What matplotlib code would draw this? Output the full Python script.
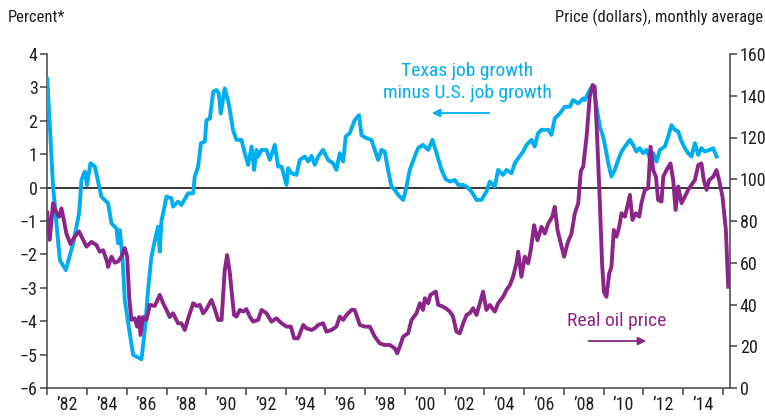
import numpy as np
import matplotlib
matplotlib.use("Agg")
import matplotlib.pyplot as plt
from matplotlib import font_manager

# ---------------- data ----------------
# Texas job growth minus U.S. job growth (percent, left axis)
job_years = [1981.0, 1981.29, 1981.63, 1981.93, 1982.3, 1982.6, 1982.72, 1982.89, 1983.0, 1983.17,
             1983.39, 1983.72, 1984.06, 1984.23, 1984.48, 1984.56, 1984.65, 1984.78, 1984.9, 1985.07,
             1985.32, 1985.74, 1985.91, 1986.07, 1986.24, 1986.49, 1986.58, 1986.66, 1986.74, 1987.0,
             1987.25, 1987.33, 1987.58, 1987.75, 1988.09, 1988.34, 1988.42, 1988.59, 1988.73, 1988.93,
             1989.01, 1989.18, 1989.35, 1989.51, 1989.63, 1989.73, 1989.93, 1990.13, 1990.35, 1990.52,
             1990.77, 1990.94, 1991.11, 1991.28, 1991.41, 1991.53, 1991.61, 1991.78, 1992.03, 1992.2,
             1992.45, 1992.62, 1992.79, 1993.04, 1993.12, 1993.29, 1993.54, 1993.71, 1993.96, 1994.13,
             1994.3, 1994.46, 1994.63, 1994.88, 1995.13, 1995.38, 1995.55, 1995.72, 1995.89, 1996.02,
             1996.22, 1996.47, 1996.69, 1996.81, 1997.06, 1997.31, 1997.48, 1997.65, 1997.82, 1997.98,
             1998.15, 1998.32, 1998.49, 1998.66, 1998.91, 1999.08, 1999.24, 1999.49, 1999.66, 1999.91,
             2000.17, 2000.38, 2000.59, 2000.84, 2001.05, 2001.26, 2001.51, 2001.68, 2001.93, 2002.1,
             2002.35, 2002.6, 2002.85, 2003.1, 2003.27, 2003.52, 2003.69, 2003.94, 2004.11, 2004.36,
             2004.53, 2004.7, 2004.95, 2005.12, 2005.37, 2005.53, 2005.7, 2005.87, 2006.04, 2006.21,
             2006.37, 2006.54, 2006.79, 2007.04, 2007.3, 2007.46, 2007.72, 2007.97, 2008.05, 2008.3,
             2008.47, 2008.64, 2008.81, 2008.97, 2009.11, 2009.23, 2009.39, 2009.56, 2009.73, 2009.9,
             2010.07, 2010.32, 2010.48, 2010.65, 2010.82, 2010.99, 2011.16, 2011.32, 2011.49, 2011.66,
             2011.83, 2012.08, 2012.25, 2012.41, 2012.58, 2012.75, 2012.92, 2013.09, 2013.25, 2013.42,
             2013.59, 2013.76, 2013.92, 2014.09, 2014.34, 2014.51, 2014.68]
job_diff = [3.25, 0.03, -2.17, -2.47, -1.67, -0.77, 0.23, 0.48, 0.08, 0.73,
            0.63, -0.27, -0.47, -1.07, -1.22, -1.67, -1.27, -2.07, -3.37, -4.06,
            -5.01, -5.14, -4.26, -3.07, -2.07, -1.37, -1.17, -1.92, -1.02, -0.27,
            -0.32, -0.57, -0.42, -0.52, -0.17, -0.17, 0.33, 0.63, 1.33, 1.38,
            2.02, 2.07, 2.87, 2.92, 2.82, 2.22, 2.97, 2.52, 1.72, 1.43,
            1.43, 1.03, 0.68, 1.23, 0.53, 1.13, 0.93, 1.13, 1.13, 0.83,
            1.28, 0.63, 0.63, 0.08, 0.58, 0.43, 0.38, 0.83, 0.93, 0.78,
            0.95, 0.68, 0.93, 1.13, 0.83, 0.73, 0.53, 1.03, 0.78, 1.53,
            1.63, 2.02, 2.17, 1.57, 1.48, 1.43, 1.13, 0.83, 1.13, 1.08,
            0.53, 0.03, -0.07, -0.22, -0.37, 0.03, 0.53, 0.93, 1.18, 1.28,
            1.13, 1.43, 1.03, 0.53, 0.25, 0.18, 0.23, 0.08, 0.08, 0.03,
            -0.12, -0.37, -0.37, -0.12, 0.18, 0.03, 0.53, 0.38, 0.53, 0.43,
            0.73, 0.88, 1.08, 1.28, 1.43, 1.23, 1.63, 1.73, 1.73, 1.73,
            1.58, 2.07, 2.22, 2.42, 2.42, 2.62, 2.52, 2.67, 2.62, 2.92,
            3.07, 2.42, 1.82, 1.53, 1.13, 0.73, 0.33, 0.53, 0.83, 1.08,
            1.23, 1.43, 1.28, 1.08, 1.18, 1.03, 1.13, 0.88, 1.03, 0.78,
            1.13, 1.23, 1.53, 1.87, 1.73, 1.68, 1.38, 1.18, 1.03, 0.93,
            1.33, 0.98, 1.18, 1.08, 1.13, 1.18, 0.93]

# Real oil price (dollars, monthly average, right axis)
oil_years = [1981.0, 1981.12, 1981.29, 1981.46, 1981.59, 1981.71, 1981.83, 1981.96, 1982.16, 1982.38,
             1982.6, 1982.8, 1982.97, 1983.22, 1983.47, 1983.64, 1983.81, 1983.98, 1984.06, 1984.23,
             1984.4, 1984.56, 1984.73, 1984.9, 1985.02, 1985.12, 1985.23, 1985.4, 1985.52, 1985.62,
             1985.69, 1985.82, 1985.99, 1986.16, 1986.41, 1986.66, 1986.83, 1987.0, 1987.16, 1987.33,
             1987.58, 1987.75, 1987.92, 1988.09, 1988.34, 1988.51, 1988.68, 1988.84, 1989.01, 1989.26,
             1989.43, 1989.6, 1989.77, 1989.93, 1990.05, 1990.19, 1990.27, 1990.4, 1990.52, 1990.69,
             1990.86, 1991.02, 1991.19, 1991.36, 1991.61, 1991.78, 1992.03, 1992.28, 1992.53, 1992.79,
             1993.04, 1993.26, 1993.42, 1993.62, 1993.88, 1994.04, 1994.3, 1994.46, 1994.63, 1994.88,
             1995.05, 1995.3, 1995.55, 1995.72, 1995.89, 1996.06, 1996.31, 1996.47, 1996.73, 1996.98,
             1997.23, 1997.48, 1997.73, 1997.98, 1998.24, 1998.49, 1998.61, 1998.74, 1998.91, 1999.16,
             1999.33, 1999.58, 1999.75, 1999.91, 2000.0, 2000.17, 2000.28, 2000.42, 2000.55, 2000.67,
             2000.84, 2001.05, 2001.26, 2001.42, 2001.59, 2001.76, 2001.93, 2002.1, 2002.26, 2002.43,
             2002.6, 2002.77, 2002.93, 2003.1, 2003.27, 2003.52, 2003.69, 2003.94, 2004.11, 2004.28,
             2004.44, 2004.61, 2004.7, 2004.86, 2005.03, 2005.2, 2005.33, 2005.5, 2005.67, 2005.87,
             2006.04, 2006.21, 2006.41, 2006.54, 2006.68, 2006.84, 2007.01, 2007.18, 2007.38, 2007.55,
             2007.72, 2007.85, 2007.97, 2008.14, 2008.3, 2008.44, 2008.55, 2008.67, 2008.81, 2008.92,
             2009.01, 2009.14, 2009.28, 2009.39, 2009.51, 2009.65, 2009.78, 2009.9, 2010.07, 2010.15,
             2010.32, 2010.45, 2010.62, 2010.79, 2010.9, 2011.07, 2011.24, 2011.36, 2011.49, 2011.63,
             2011.74, 2011.91, 2012.0, 2012.16, 2012.36, 2012.5, 2012.62, 2012.75, 2012.92, 2013.09,
             2013.25, 2013.42, 2013.59, 2013.76, 2013.92, 2014.04, 2014.18, 2014.31, 2014.51, 2014.68,
             2014.81, 2014.98, 2015.15, 2015.27]
oil_price = [84, 71, 88.5, 84, 82, 86, 80.5, 74, 69, 72.5,
             75, 71, 67.7, 70, 68.5, 65.3, 66, 61.3, 58, 62.9,
             60, 60.6, 62.9, 67, 62.9, 43.7, 32.6, 33.4, 29.4, 34,
             25.4, 34, 32.6, 39.8, 39.3, 44.6, 40.6, 37.4, 34, 35.8,
             31, 31, 27.8, 33.4, 40.6, 39.3, 39.8, 35.8, 37.8, 42.2,
             37.8, 32.6, 32.6, 56.5, 63.7, 54.9, 46.9, 35, 34.2, 37.4,
             36.6, 37.8, 34.2, 31.8, 32.6, 37.4, 35.8, 31.8, 33.4, 31,
             29.4, 29.4, 23.8, 23.8, 30.2, 28.6, 27.8, 28.6, 30.2, 31,
             27, 27.8, 29.4, 34.2, 32.6, 35, 37.4, 37.4, 30.2, 29.4,
             29.4, 24.6, 21.4, 20.6, 20.6, 19, 16.6, 19.8, 24.6, 26.2,
             32.6, 35.8, 40.6, 37.4, 43, 40.6, 44.6, 45.4, 46.2, 39.8,
             39.3, 38.2, 36.6, 34.2, 27, 26.2, 31, 35, 35.8, 38.2,
             35, 40.6, 46.2, 37.4, 39.8, 36.6, 40.6, 43.7, 47, 49.3,
             53.3, 59.7, 65.3, 53.3, 62.9, 59.7, 66.1, 78, 70.8, 77.2,
             74, 78.8, 82, 86.8, 75.6, 69.3, 62.9, 69.3, 74, 83.7,
             88.5, 104, 106, 120.4, 139.5, 145.1, 144.3, 120.4, 88.5, 59.7,
             46.1, 43.7, 54.9, 58, 75.7, 72.5, 77.2, 83.7, 82.1, 85.3,
             92.5, 80.5, 83.7, 82.1, 88.5, 94.9, 95.7, 115.6, 104.4, 101.2,
             90.1, 89.3, 101.2, 104.4, 107.6, 99.6, 85.3, 96.5, 88.5, 91.7,
             94.9, 97.3, 99.6, 106.8, 107.6, 99.6, 94.9, 99.6, 101.2, 104.4,
             99.6, 91.7, 75.7, 48.5]

tick_label_years = list(range(1982, 2015, 2))
tick_labels = ["\u2019%02d" % (y % 100) for y in tick_label_years]
left_ticks = [-6, -5, -4, -3, -2, -1, 0, 1, 2, 3, 4]
right_ticks = [0, 20, 40, 60, 80, 100, 120, 140, 160]

BLUE = "#00aeef"
PURPLE = "#8b2589"
TXT = "#231f20"

# ---------------- fonts ----------------
names = {f.name for f in font_manager.fontManager.ttflist}
fam = []
for n in ["Liberation Sans Narrow", "Roboto Condensed", "Liberation Sans"]:
    if n in names:
        fam.append(n)
fam.append("DejaVu Sans")
plt.rcParams["font.family"] = fam

W, H = 765, 417
fig = plt.figure(figsize=(W / 100, H / 100), dpi=100)

def fx(px):
    return px / W

def fy(py):
    return 1 - py / H

L, R, T, B = 47.3, 730, 54, 388
ax = fig.add_axes([fx(L), fy(B), (R - L) / W, (B - T) / H])
ax2 = ax.twinx()

x_left = 1981.0
x_right = 1981.0 + (R - L) / 19.87
ax.set_xlim(x_left, x_right)
ax.set_ylim(-6, 4)
ax2.set_ylim(0, 160)

ax.axhline(0, color="black", lw=1.1, zorder=1)
ax.plot(job_years, job_diff, color=BLUE, lw=2.8, solid_joinstyle="round", zorder=3)
ax2.plot(oil_years, oil_price, color=PURPLE, lw=2.8, solid_joinstyle="round", zorder=3)

spine_col = "#444444"
for a in (ax, ax2):
    a.spines["top"].set_visible(False)
    for s in a.spines.values():
        s.set_color(spine_col)
        s.set_linewidth(1.1)
ax.spines["right"].set_visible(False)
ax2.spines["left"].set_visible(False)
ax2.spines["bottom"].set_visible(False)

ax.set_xticks(np.arange(1981, 2016, 2))
ax.set_xticklabels([])
ax.set_xticks(tick_label_years, minor=True)
ax.set_xticklabels(tick_labels, minor=True)
ax.tick_params(axis="x", which="major", direction="out", length=5, width=1.1, color=spine_col)
ax.tick_params(axis="x", which="minor", length=0, pad=6, labelsize=13, labelcolor=TXT)

ax.set_yticks(left_ticks)
ax.set_yticklabels(["\u2212%d" % abs(v) if v < 0 else "%d" % v for v in left_ticks])
ax.tick_params(axis="y", direction="out", length=5, width=1.1, color=spine_col, labelsize=13,
               labelcolor=TXT, pad=2)
ax2.set_yticks(right_ticks)
ax2.tick_params(axis="y", direction="out", length=5, width=1.1, color=spine_col, labelsize=13,
                labelcolor=TXT, pad=2)

fig.text(fx(8), fy(17), "Percent*", fontsize=12, color=TXT, ha="left", va="center")
fig.text(fx(763), fy(17), "Price (dollars), monthly average", fontsize=12, color=TXT,
         ha="right", va="center")

fig.text(fx(467), fy(71), "Texas job growth", fontsize=14, color=BLUE, ha="center", va="center")
fig.text(fx(467), fy(93), "minus U.S. job growth", fontsize=14, color=BLUE, ha="center", va="center")
fig.patches.append(matplotlib.patches.FancyArrowPatch(
    (fx(492), fy(113)), (fx(429), fy(113)), transform=fig.transFigure,
    arrowstyle="-|>", mutation_scale=12, color=BLUE, lw=1.3))

fig.text(fx(617), fy(321), "Real oil price", fontsize=14, color=PURPLE, ha="center", va="center")
fig.patches.append(matplotlib.patches.FancyArrowPatch(
    (fx(586), fy(341)), (fx(649), fy(341)), transform=fig.transFigure,
    arrowstyle="-|>", mutation_scale=12, color=PURPLE, lw=1.3))

fig.savefig("out.png", dpi=100)
